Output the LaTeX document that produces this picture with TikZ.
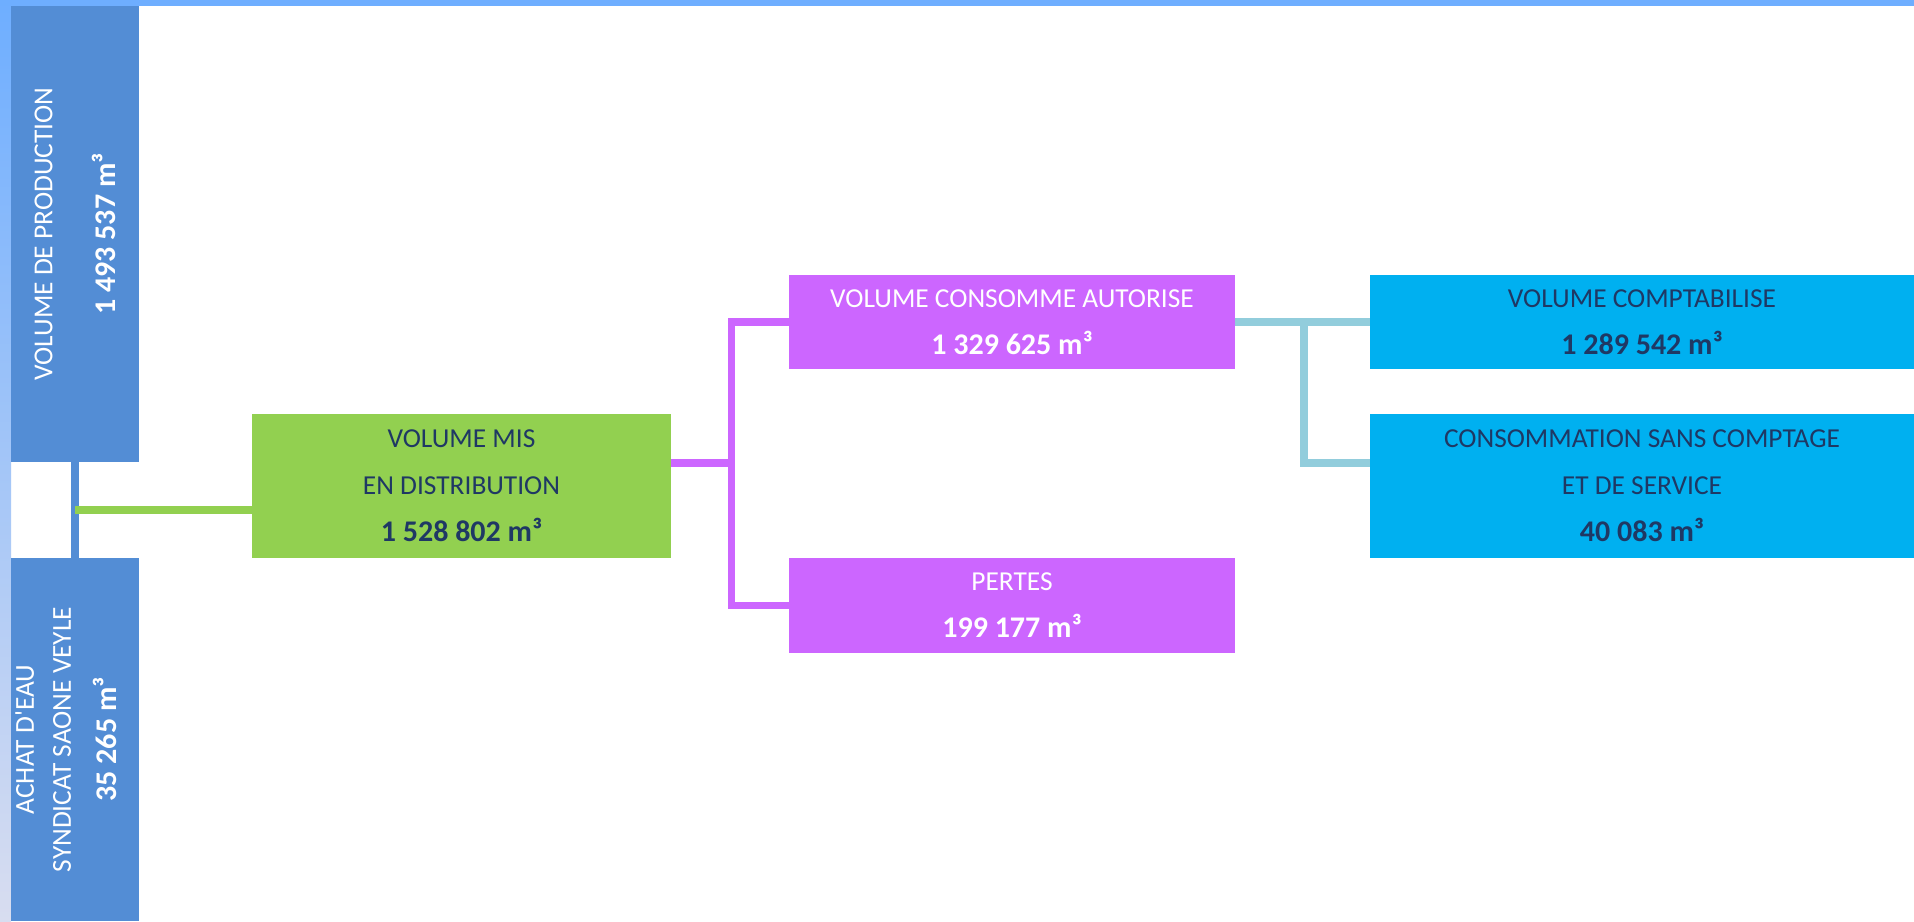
\documentclass[tikz,border=0pt]{standalone}
\usepackage{fontspec}
\setmainfont{Carlito}
\usepackage{tikz}
\usetikzlibrary{calc}
\definecolor{prodblue}{HTML}{538DD5}
\definecolor{distgreen}{HTML}{92D050}
\definecolor{consmag}{HTML}{CC66FF}
\definecolor{comptcyan}{HTML}{00B0F0}
\definecolor{linkcyan}{HTML}{92CDDC}
\definecolor{navytext}{HTML}{1F3864}
\definecolor{framebar}{HTML}{6EAEFF}
\definecolor{framelow}{HTML}{D8DDF0}
\newcommand{\PB}[0]{prodblue}
\newcommand{\PG}[0]{distgreen}
\newcommand{\PM}[0]{consmag}
\newcommand{\PC}[0]{comptcyan}
\newcommand{\VOL}[1]{{\fontsize{15}{23.5}\selectfont\bfseries #1~m³}}

\begin{document}
\begin{tikzpicture}[x=0.5pt, y=-0.5pt,
  box/.style={inner sep=0pt, align=center, font=\fontsize{13.7}{23.5}\selectfont},
  sidebox/.style={box, fill=\PB, text=white, minimum height=64pt, rotate=90},
  link/.style={line width=3.75pt}]

  \useasboundingbox (0, 0) rectangle (1914, 921);
  \fill[white] (0, 0) rectangle (1914, 921);

  %% frame
  \shade[top color=framebar, bottom color=framelow] (0, 0) rectangle (11, 921);
  \fill[framebar] (0, 0) rectangle (1914, 6);

  %% sources (rotated: width runs down the page)
  \node[sidebox, minimum width=228pt, font=\fontsize{13.7}{15}\selectfont]
    (prod) at (75, 234) {VOLUME DE PRODUCTION\\[16.5pt]\VOL{1 493 537}};
  \node[sidebox, minimum width=181.5pt, text depth=9pt, font=\fontsize{13.7}{18.5}\selectfont]
    (achat) at (75, 739.5) {ACHAT D\textquotesingle EAU\\SYNDICAT SAONE VEYLE\\[4.5pt]\VOL{35 265}};

  %% boxes
  \node[box, fill=\PG, text=navytext, minimum width=209.5pt, minimum height=72pt]
    (distrib) at (461.5, 486) {VOLUME MIS\\EN DISTRIBUTION\\\VOL{1 528 802}};
  \node[box, fill=\PM, text=white, minimum width=223pt, minimum height=47pt]
    (autor) at (1012, 322) {VOLUME CONSOMME AUTORISE\\\VOL{1 329 625}};
  \node[box, fill=\PM, text=white, minimum width=223pt, minimum height=47.5pt]
    (pertes) at (1012, 605.5) {PERTES\\\VOL{199 177}};
  \node[box, fill=\PC, text=navytext, minimum width=272pt, minimum height=47pt]
    (comptab) at (1642, 322) {VOLUME COMPTABILISE\\\VOL{1 289 542}};
  \node[box, fill=\PC, text=navytext, minimum width=272pt, minimum height=72pt]
    (sanscpt) at (1642, 486) {CONSOMMATION SANS COMPTAGE\\ET DE SERVICE\\\VOL{40 083}};

  %% connectors
  \coordinate (srcj) at ($(prod.west)!0.5!(achat.east)$);
  \coordinate (magj) at (731.5, 463);
  \coordinate (cyj)  at (1304, 322);

  \draw[link, \PB] (prod.west) -- (achat.east);
  \draw[link, \PG] (srcj) -- (srcj -| distrib.west);
  \draw[link, \PM] (distrib.east |- magj) -- (magj);
  \draw[link, \PM] (autor.west) -| (magj) |- (pertes.west);
  \draw[link, linkcyan] (autor.east) -- (comptab.west);
  \draw[link, linkcyan] (cyj) |- (sanscpt.west |- magj);

\end{tikzpicture}
\end{document}
